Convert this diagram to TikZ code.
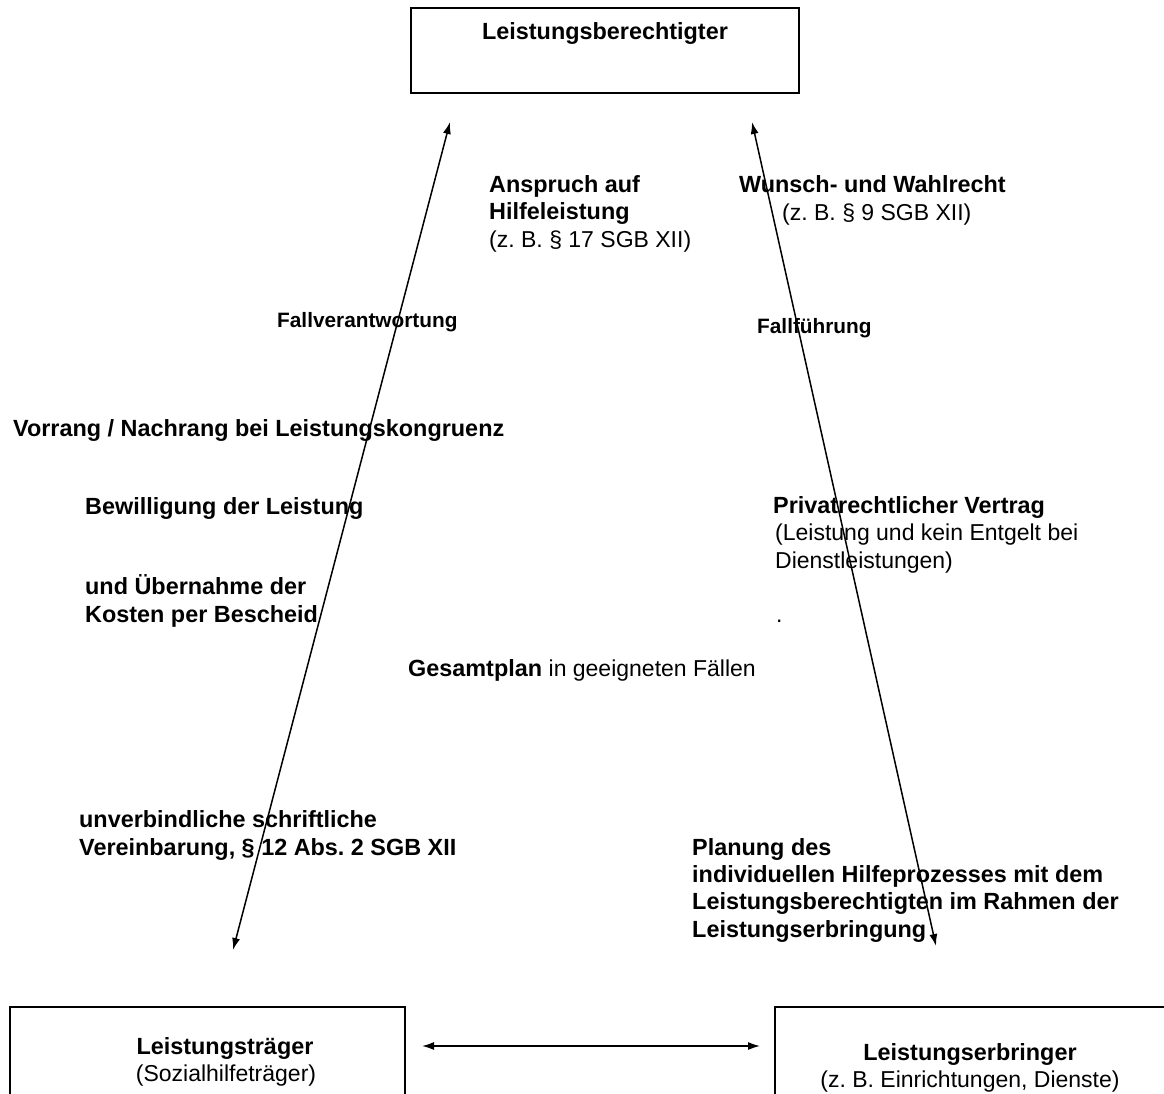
\documentclass[tikz,border=0pt]{standalone}
\usepackage{fontspec}
\setmainfont{Liberation Sans}
\usetikzlibrary{arrows.meta}
\frenchspacing
\begin{document}
\begin{tikzpicture}[x=1pt,y=-1pt,
  box/.style={draw, line width=1.4pt, inner sep=0pt},
  txt/.style={font=\fontsize{23.4}{27.3}\selectfont\bfseries, inner sep=0pt, align=left, anchor=base west},
  reg/.style={font=\fontsize{23}{27.3}\selectfont, inner sep=0pt, anchor=base west},
  small/.style={font=\fontsize{20.8}{24}\selectfont\bfseries, inner sep=0pt, anchor=base west},
  ctr/.style={font=\fontsize{23}{27.3}\selectfont, inner sep=0pt, anchor=base},
  ctrb/.style={font=\fontsize{23.4}{27.3}\selectfont\bfseries, inner sep=0pt, anchor=base},
  arr/.style={line width=1.5pt, {Latex[length=12pt,width=8pt]}-{Latex[length=12pt,width=8pt]}}]
\useasboundingbox (0,0) rectangle (1164,1093);
\clip (0,0) rectangle (1164,1093);
% boxes
\node[box, minimum width=388pt, minimum height=85pt] (ber) at (605,50.5) {};
\node[box, minimum width=395pt, minimum height=120pt] (traeger) at (207.5,1067) {};
\node[box, minimum width=420pt, minimum height=120pt] (erbr) at (985,1067) {};
% box labels
\node[ctrb] (berl) at (605,39) {Leistungsberechtigter};
\node[ctrb] (trl1) at (225,1054) {Leistungsträger};
\node[ctr] (trl2) at (226,1081) {(Sozialhilfeträger)};
\node[ctrb] (erl1) at (970,1060) {Leistungserbringer};
\node[ctr] (erl2) at (970,1087) {(z. B. Einrichtungen, Dienste)};
% connectors
\coordinate (l1) at (233,950);
\coordinate (l2) at (450,122);
\coordinate (r1) at (752,122);
\coordinate (r2) at (936,946);
\coordinate (h1) at (422,1046);
\coordinate (h2) at (760,1046);
\draw[arr] (l1) -- (l2);
\draw[arr] (r1) -- (r2);
\draw[arr] (h1) -- (h2);
% texts (multi-line nodes: base = baseline of last line)
\node[txt] (anspruch) at (489,247) {Anspruch auf\\Hilfeleistung\\\fontsize{23}{27.3}\selectfont\mdseries(z. B. § 17 SGB XII)};
\node[txt] (wunsch) at (739,192) {Wunsch- und Wahlrecht};
\node[reg] (wunsch2) at (782,220) {(z. B. § 9 SGB XII)};
\node[small] (fallv) at (277,327) {Fallverantwortung};
\node[small] (fallf) at (757,333) {Fallführung};
\node[txt] (vorrang) at (13,436) {Vorrang / Nachrang bei Leistungskongruenz};
\node[txt] (bewill) at (85,514) {Bewilligung der Leistung};
\node[txt] (uebern) at (85,622) {und Übernahme der\\Kosten per Bescheid};
\node[txt] (privat) at (773,568) {Privatrechtlicher Vertrag\\\fontsize{23}{27.3}\selectfont\mdseries\hspace*{2pt}(Leistung und kein Entgelt bei\\\fontsize{23}{27.3}\selectfont\mdseries\hspace*{2pt}Dienstleistungen)};
\node[reg] (dot) at (776,622) {.};
\node[txt] (gesamt) at (408,676) {Gesamtplan \fontsize{23}{27.3}\selectfont\mdseries in geeigneten Fällen};
\node[txt] (unverb) at (79,855) {unverbindliche schriftliche\\Vereinbarung, § 12 Abs. 2 SGB XII};
\node[txt] (planung) at (692,937) {Planung des\\individuellen Hilfeprozesses mit dem\\Leistungsberechtigten im Rahmen der\\Leistungserbringung};
\end{tikzpicture}
\end{document}
